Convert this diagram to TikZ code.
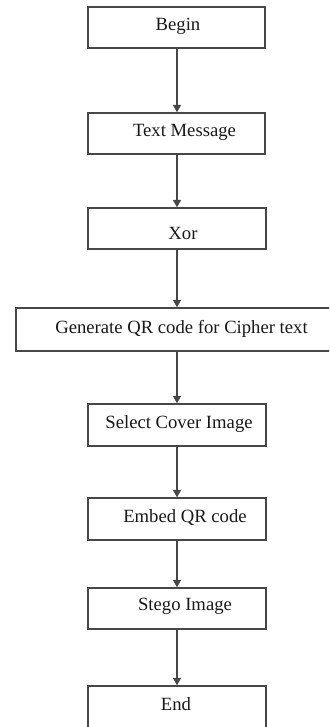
\documentclass[tikz,border=0pt]{standalone}
\usepackage{fontspec}
\setmainfont{Liberation Serif}
\usetikzlibrary{arrows.meta,fit}
\begin{document}
\begin{tikzpicture}[x=0.75pt,y=-0.75pt,
  box/.style={draw=black!72, line width=1.1pt, inner sep=0pt, rectangle, fill=white},
  lbl/.style={inner sep=0pt, anchor=base, font=\fontsize{14pt}{16pt}\selectfont, text=black!90},
  arr/.style={draw=black!72, line width=1.1pt, -{Triangle[width=6pt,length=5.5pt]}}]
\useasboundingbox (0,0) rectangle (329,727);
\clip (0,0) rectangle (329,727);
\node[box, fit={(88,7)(265,48)}] (b1) {};
\node[box, fit={(88,113)(265,154)}] (b2) {};
\node[box, fit={(88,208)(266,249)}] (b3) {};
\node[box, fit={(16,308)(360,351)}] (b4) {};
\node[box, fit={(88,404)(266,446)}] (b5) {};
\node[box, fit={(88,498)(266,540)}] (b6) {};
\node[box, fit={(88,588)(266,629)}] (b7) {};
\node[box, fit={(88,686)(266,731)}] (b8) {};
\node[lbl] (t1) at (178,31) {Begin};
\node[lbl] (t2) at (184.5,137) {Text Message};
\node[lbl] (t3) at (183,239) {Xor};
\node[lbl] (t4) at (181.5,333) {Generate QR code for Cipher text};
\node[lbl] (t5) at (179,428) {Select Cover Image};
\node[lbl] (t6) at (185,522) {Embed QR code};
\node[lbl] (t7) at (185,610) {Stego Image};
\node[lbl] (t8) at (176,710) {End};
\foreach \a/\b in {b1/b2,b2/b3,b3/b4,b4/b5,b5/b6,b6/b7,b7/b8}{
  \draw[arr] (\a.south -| 177,0) -- (\b.north -| 177,0);
}
\end{tikzpicture}
\end{document}
